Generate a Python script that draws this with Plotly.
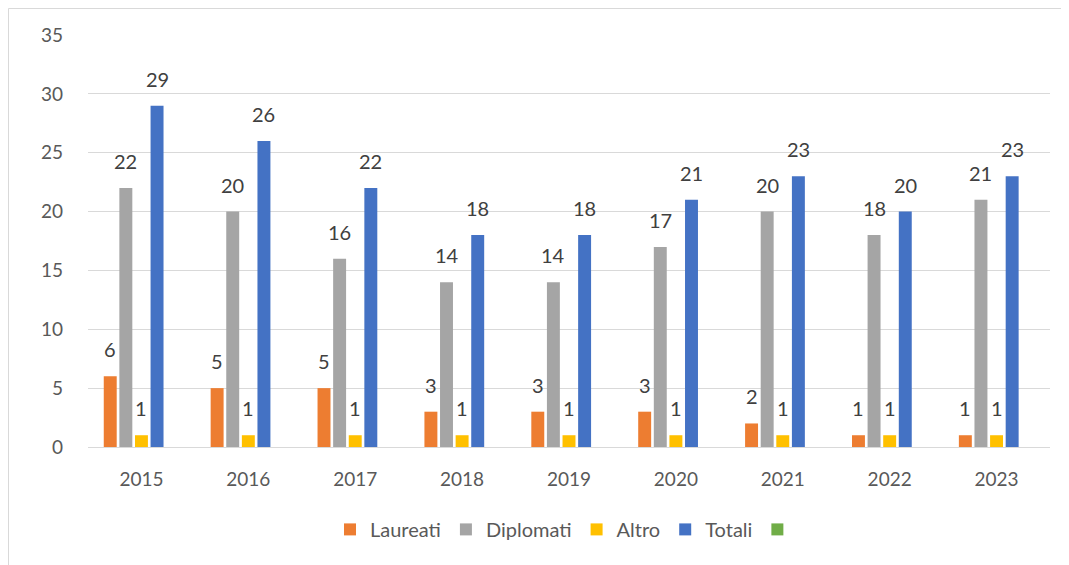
import plotly.graph_objects as go

years = ["2015", "2016", "2017", "2018", "2019", "2020", "2021", "2022", "2023"]
laureati = [6, 5, 5, 3, 3, 3, 2, 1, 1]
diplomati = [22, 20, 16, 14, 14, 17, 20, 18, 21]
altro = [1, 1, 1, 1, 1, 1, 1, 1, 1]
totali = [29, 26, 22, 18, 18, 21, 23, 20, 23]
empty_series = [0, 0, 0, 0, 0, 0, 0, 0, 0]

series = [
    ("Laureati", laureati, "#ED7D31", True),
    ("Diplomati", diplomati, "#A5A5A5", True),
    ("Altro", altro, "#FFC000", True),
    ("Totali", totali, "#4472C4", True),
    (" ", empty_series, "#70AD47", False),
]

# page body has an 8px margin, so the figure is sized/offset to compensate
W, H = 1061, 557
ML, MR, MT, MB = 80, 19, 27, 118
plot_w = W - ML - MR
plot_h = H - MT - MB
bargap = 0.27
bargroupgap = 0.17
cat_px = plot_w / len(years)
slot_px = cat_px * (1 - bargap) / len(series)

FONT = "Lato, 'Open Sans', sans-serif"

fig = go.Figure()
annotations = []
for i, (name, vals, color, labeled) in enumerate(series):
    fig.add_trace(go.Bar(
        x=years, y=vals, name=name,
        marker=dict(color=color, line=dict(width=0)),
        hoverinfo="skip",
    ))
    if labeled:
        for j, v in enumerate(vals):
            annotations.append(dict(
                x=j, y=v, xref="x", yref="y", text=str(v),
                showarrow=False, yanchor="bottom", xanchor="center",
                xshift=(i - (len(series) - 1) / 2) * slot_px, yshift=13,
                font=dict(family=FONT, size=20, color="#404040"),
            ))

fig.update_layout(
    width=W, height=H,
    margin=dict(l=ML, r=MR, t=MT, b=MB, autoexpand=False),
    paper_bgcolor="white", plot_bgcolor="white",
    barmode="group", bargap=bargap, bargroupgap=bargroupgap,
    font=dict(family=FONT, size=18, color="#595959"),
    showlegend=True,
    legend=dict(
        orientation="h", x=0.5, xanchor="center", y=-0.2, yanchor="middle",
        font=dict(family=FONT, size=20, color="#595959"),
        itemclick=False,
    ),
    annotations=annotations,
    shapes=[dict(
        type="rect", xref="paper", yref="paper",
        x0=(0.5 - ML) / plot_w, x1=1.2,
        y0=-0.5, y1=(H - MB - 0.5) / plot_h,
        line=dict(color="#D9D9D9", width=1), fillcolor="rgba(0,0,0,0)",
        layer="below",
    )],
)
fig.update_xaxes(
    type="category", range=[-0.5, len(years) - 0.5], autorange=False,
    showgrid=False, showline=True, linecolor="#D9D9D9", linewidth=1,
    ticks="", ticklabelstandoff=15,
    tickfont=dict(family=FONT, size=19, color="#595959"),
)
fig.update_yaxes(
    range=[0, 35], autorange=False, dtick=5, showgrid=True,
    gridcolor="#D9D9D9", gridwidth=1,
    zeroline=False, showline=False, ticks="", ticklabelstandoff=24,
    tickfont=dict(family=FONT, size=19, color="#595959"),
)

fig.write_html("out.html")
